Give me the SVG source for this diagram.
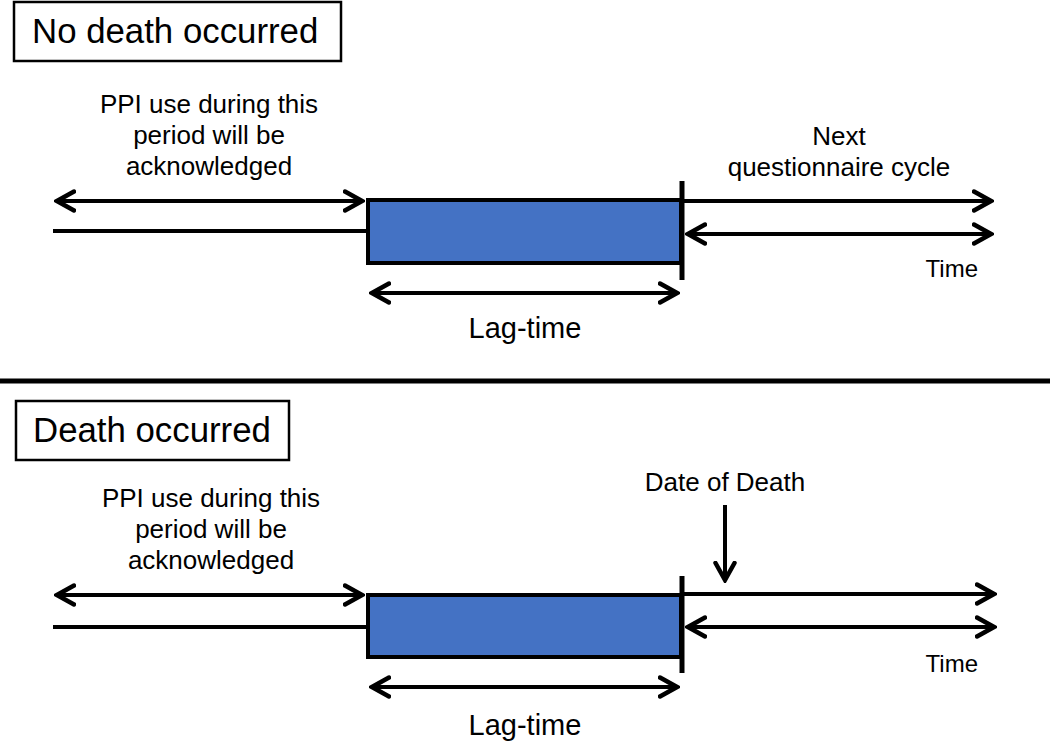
<svg xmlns="http://www.w3.org/2000/svg" width="1050" height="744" viewBox="0 0 1050 744">
<style>
  text { font-family: "Liberation Sans", Arial, sans-serif; fill: #000; }
  .title { font-size: 34.8px; }
  .body { font-size: 26px; text-anchor: middle; }
  .lag { font-size: 29px; text-anchor: middle; }
  .time { font-size: 24px; text-anchor: end; }
  .box { fill: #fff; stroke: #000; stroke-width: 2.5; }
  .bar { fill: #4472C4; stroke: #000; stroke-width: 4; }
  .tick { stroke: #000; stroke-width: 5; }
  .ln { stroke: #000; stroke-width: 4; fill: none; }
  .dbl { stroke: #000; stroke-width: 4; fill: none; marker-start: url(#ah); marker-end: url(#ah); }
  .one { stroke: #000; stroke-width: 4; fill: none; marker-end: url(#ah); }
</style>
<defs>
  <marker id="ah" viewBox="0 0 22 24" refX="19" refY="12" markerWidth="22" markerHeight="24" markerUnits="userSpaceOnUse" orient="auto-start-reverse">
    <path d="M2,2.5 L19,12 L2,21.5" fill="none" stroke="#000" stroke-width="4.5" stroke-linejoin="miter" stroke-linecap="round"/>
  </marker>
</defs>
<rect width="1050" height="744" fill="#fff"/>

<!-- Top panel -->
<g id="title-no-death">
  <rect class="box" x="14" y="2" width="327" height="59"/>
  <text class="title" x="32" y="43">No death occurred</text>
</g>
<g id="label-ppi-top">
  <text class="body" x="209" y="113">PPI use during this</text>
  <text class="body" x="209" y="144">period will be</text>
  <text class="body" x="209" y="175">acknowledged</text>
</g>
<g id="label-next">
  <text class="body" x="839" y="145">Next</text>
  <text class="body" x="839" y="176">questionnaire cycle</text>
</g>
<g id="lag-bar-top">
  <rect class="bar" x="368" y="200" width="313" height="63"/>
  <line class="tick" x1="682" y1="181" x2="682" y2="280"/>
</g>
<g id="label-time-top"><text class="time" x="978" y="277">Time</text></g>
<g id="label-lag-top"><text class="lag" x="525" y="338">Lag-time</text></g>

<!-- Divider -->
<g id="divider"><line x1="0" y1="381" x2="1050" y2="381" stroke="#000" stroke-width="5"/></g>

<!-- Bottom panel -->
<g id="title-death">
  <rect class="box" x="16" y="401" width="273" height="59"/>
  <text class="title" x="33" y="442">Death occurred</text>
</g>
<g id="label-ppi-bottom">
  <text class="body" x="211" y="507">PPI use during this</text>
  <text class="body" x="211" y="538">period will be</text>
  <text class="body" x="211" y="569">acknowledged</text>
</g>
<g id="label-date-of-death"><text class="body" x="725" y="491">Date of Death</text></g>
<g id="lag-bar-bottom">
  <rect class="bar" x="368" y="595" width="313" height="62"/>
  <line class="tick" x1="682" y1="576" x2="682" y2="673"/>
</g>
<g id="label-time-bottom"><text class="time" x="978" y="672">Time</text></g>
<g id="label-lag-bottom"><text class="lag" x="525" y="735">Lag-time</text></g>

<!-- Connectors -->
<g id="connectors">
  <line class="dbl" x1="57" y1="201" x2="362" y2="201"/>
  <line class="ln" x1="53" y1="231" x2="368" y2="231"/>
  <line class="one" x1="684" y1="201" x2="991" y2="201"/>
  <line class="dbl" x1="688" y1="234" x2="991" y2="234"/>
  <line class="dbl" x1="372" y1="293" x2="677" y2="293"/>

  <line class="dbl" x1="57" y1="595" x2="362" y2="595"/>
  <line class="ln" x1="53" y1="627" x2="368" y2="627"/>
  <line class="one" x1="684" y1="594" x2="994" y2="594"/>
  <line class="dbl" x1="688" y1="627" x2="994" y2="627"/>
  <line class="dbl" x1="372" y1="687" x2="677" y2="687"/>
  <line class="one" x1="725" y1="505" x2="725" y2="580"/>
</g>
</svg>
